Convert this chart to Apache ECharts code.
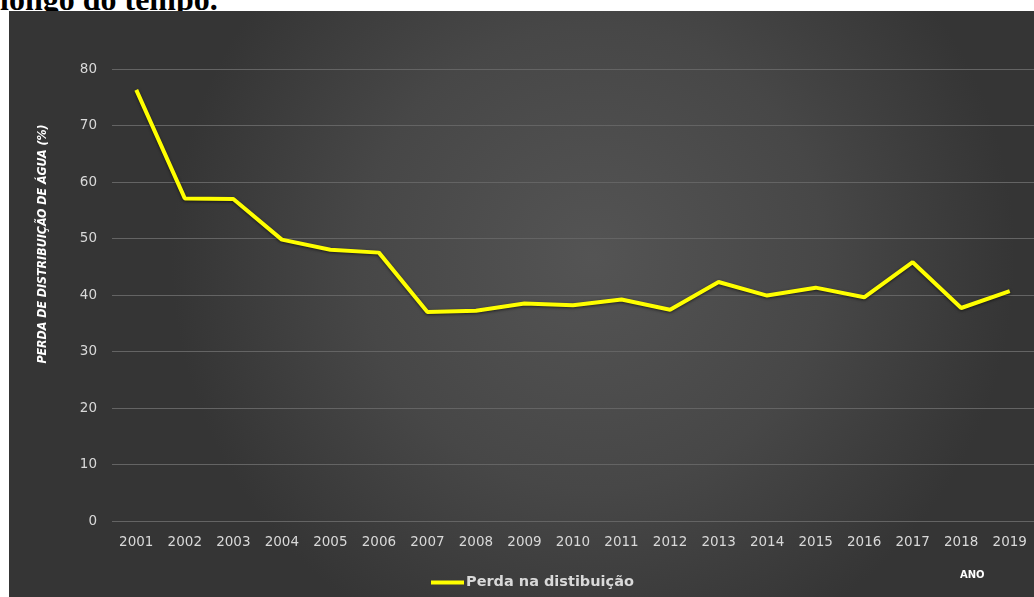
<!DOCTYPE html>
<html>
<head>
<meta charset="utf-8">
<script src="https://cdn.jsdelivr.net/npm/echarts@6/dist/echarts.min.js"></script>
<style>
html,body{margin:0;padding:0;background:#fff;width:1034px;height:597px;overflow:hidden;position:relative;}
#cap{position:absolute;left:0;top:-17px;font-family:"Liberation Serif","Times New Roman",serif;font-weight:bold;font-size:32px;line-height:1;color:#000;white-space:nowrap;z-index:0;}
#chart{position:absolute;left:9px;top:11px;width:1025px;height:586px;z-index:1;}
</style>
</head>
<body>
<div id="cap">longo do tempo.</div>
<div id="chart"></div>
<script>
const years = ['2001','2002','2003','2004','2005','2006','2007','2008','2009','2010','2011','2012','2013','2014','2015','2016','2017','2018','2019'];
const perda = [76.3, 57.1, 57.0, 49.8, 48.0, 47.5, 37.0, 37.2, 38.5, 38.2, 39.2, 37.4, 42.3, 39.9, 41.3, 39.6, 45.8, 37.7, 40.7];
const seriesName = 'Perda na distibuição';
const yTitle = 'PERDA DE DISTRIBUIÇÃO DE ÁGUA (%)';
const xTitle = 'ANO';

const chart = echarts.init(document.getElementById('chart'));
const labelFont = '"DejaVu Sans", sans-serif';
chart.setOption({
  animation: false,
  backgroundColor: {
    type: 'radial', x: 0.57, y: 0.42, r: 0.72,
    colorStops: [{offset: 0, color: '#545454'}, {offset: 0.55, color: '#474747'}, {offset: 1, color: '#353535'}]
  },
  grid: {left: 103, top: 58, width: 930, height: 452},
  xAxis: {
    type: 'category', data: years, boundaryGap: true,
    axisLine: {show: false}, axisTick: {show: false},
    axisLabel: {color: '#d9d9d9', fontSize: 13.5, fontFamily: labelFont, margin: 14}
  },
  yAxis: {
    type: 'value', min: 0, max: 80, interval: 10,
    axisLine: {show: false}, axisTick: {show: false},
    splitLine: {lineStyle: {color: '#646464', width: 1}},
    axisLabel: {color: '#d9d9d9', fontSize: 13.5, fontFamily: labelFont, margin: 15}
  },
  legend: {
    bottom: 2, left: 417,
    icon: 'rect', itemWidth: 33, itemHeight: 4, itemGap: 10,
    textStyle: {color: '#d9d9d9', fontSize: 14.5, fontFamily: labelFont, fontWeight: 'bold', padding: [0, 0, 0, -3]},
    data: [seriesName]
  },
  graphic: [
    {type: 'text', rotation: Math.PI/2, x: 34, y: 233,
      style: {text: yTitle, fill: '#ffffff', font: 'italic bold 12.3px "Liberation Sans Narrow", "DejaVu Sans Condensed", sans-serif', align: 'center', verticalAlign: 'middle'}},
    {type: 'text', x: 951, y: 559,
      style: {text: xTitle, fill: '#ffffff', font: 'bold 10px "DejaVu Sans", sans-serif'}}
  ],
  series: [{
    name: seriesName, type: 'line', data: perda,
    symbol: 'none', smooth: false,
    lineStyle: {color: '#ffff00', width: 4, shadowColor: 'rgba(0,0,0,0.6)', shadowBlur: 3, shadowOffsetY: 1},
    itemStyle: {color: '#ffff00'}
  }]
});
</script>
</body>
</html>
